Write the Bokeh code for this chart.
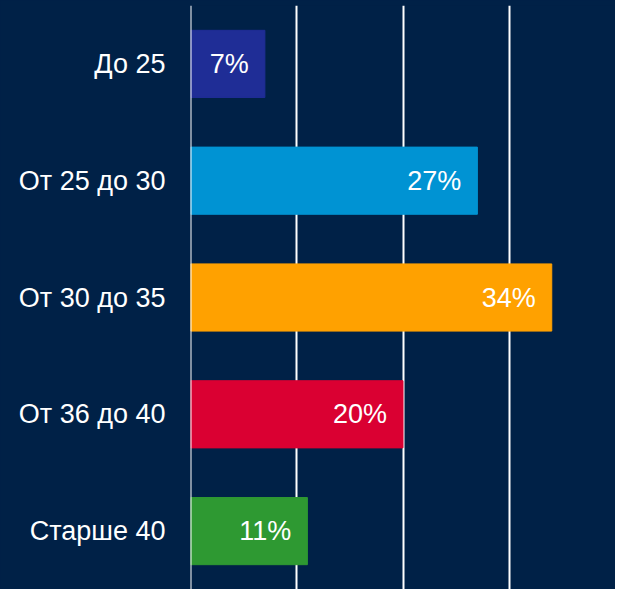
from bokeh.plotting import figure
from bokeh.models import ColumnDataSource, FactorRange, Range1d, Span
from bokeh.embed import file_html
from bokeh.resources import INLINE
from bokeh.core.properties import value

categories = ["До 25", "От 25 до 30", "От 30 до 35", "От 36 до 40", "Старше 40"]
values = [7, 27, 34, 20, 11]
labels = ["7%", "27%", "34%", "20%", "11%"]
colors = ["#1F2D96", "#0093D3", "#FFA100", "#DA0032", "#2E9932"]
grid_ticks = [0, 10, 20, 30, 40]

BG = "#002147"
FONT = "Liberation Sans"

src = ColumnDataSource(dict(cat=categories, val=values, lab=labels, col=colors))

p = figure(width=615, height=589, output_backend="svg", toolbar_location=None,
           y_range=FactorRange(*reversed(categories)), x_range=Range1d(0, 40),
           min_border_left=190, min_border_right=0, min_border_top=5, min_border_bottom=0)
p.background_fill_color = BG
p.border_fill_color = BG
p.outline_line_color = None
p.styles = {"background-color": BG}

p.hbar(y="cat", right="val", left=0, height=0.575, color="col", source=src)
p.text(x="val", y="cat", text="lab", source=src, x_offset=-16,
       text_align="right", text_baseline="middle", text_color="white",
       text_font=value(FONT), text_font_size="27px")

p.xaxis.visible = False
p.xgrid.ticker = grid_ticks
p.xgrid.grid_line_color = "white"
p.xgrid.grid_line_width = 2
p.ygrid.grid_line_color = None

p.add_layout(Span(location=grid_ticks[0], dimension="height", line_color="white",
                  line_width=2, level="overlay"))

ya = p.yaxis[0]
ya.axis_line_color = None
ya.major_tick_line_color = None
ya.minor_tick_line_color = None
ya.major_tick_out = 0
ya.major_label_standoff = 25
ya.major_label_text_color = "white"
ya.major_label_text_font = FONT
ya.major_label_text_font_size = "27px"

html = file_html(p, INLINE)
html = html.replace("<body>", '<body style="background-color:%s">' % BG, 1)
open("out.html", "w").write(html)
